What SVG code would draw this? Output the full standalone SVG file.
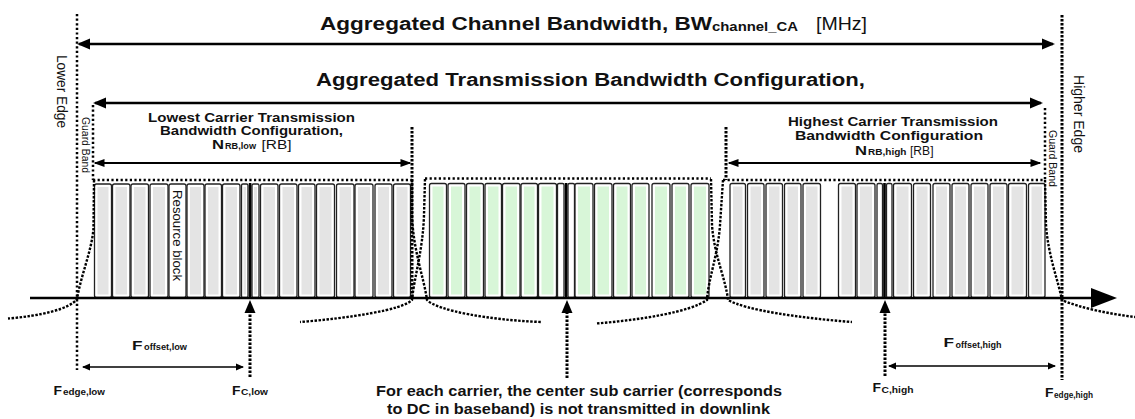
<svg xmlns="http://www.w3.org/2000/svg" width="1135" height="419" viewBox="0 0 1135 419">
<defs>
<style>
text{font-family:"Liberation Sans",Arial,sans-serif;fill:#111}
.t1{font-size:18px;font-weight:bold}
.t1n{font-size:18px}
.sub12{font-size:12px;font-weight:bold}
.lab{font-size:12.5px;font-weight:bold}
.labn{font-size:12.5px}
.F{font-size:13px;font-weight:bold}
.Fs{font-size:9px;font-weight:bold}
.note{font-size:14px;font-weight:bold}
.rot{font-size:14px}
.gb{font-size:11px}
.rbt{font-size:13px}
.rb{fill:#fff;stroke:#222;stroke-width:1.3}
.gi{fill:#e4e4e4}
.ggi{fill:#d8f6d8}
.dc{fill:#000}
.dot{fill:none;stroke:#000;stroke-width:2.5;stroke-dasharray:2.2 2.4}
.dotd{fill:none;stroke:#000;stroke-width:2.4;stroke-dasharray:2.5 1.5}
.dotk{fill:none;stroke:#000;stroke-width:3;stroke-dasharray:2.5 1.5}
.ln{fill:none;stroke:#000}
</style>
<marker id="mA" markerUnits="userSpaceOnUse" markerWidth="14" markerHeight="12" refX="11" refY="6" orient="auto-start-reverse" overflow="visible"><path d="M0,0.5 L13,6 L0,11.5 z" fill="#000"/></marker>
<marker id="mB" markerUnits="userSpaceOnUse" markerWidth="12" markerHeight="11" refX="9.5" refY="5.5" orient="auto-start-reverse" overflow="visible"><path d="M0,1.5 L11,5.5 L0,9.5 z" fill="#000"/></marker>
<marker id="mC" markerUnits="userSpaceOnUse" markerWidth="9" markerHeight="11" refX="7" refY="5.5" orient="auto-start-reverse" overflow="visible"><path d="M0,2 L8,5.5 L0,9 z" fill="#000"/></marker>
<marker id="mU" markerUnits="userSpaceOnUse" markerWidth="14" markerHeight="12" refX="0" refY="6" orient="auto" overflow="visible"><path d="M0,0.5 L13,6 L0,11.5 z" fill="#000"/></marker>
</defs>
<rect width="1135" height="419" fill="#fff"/>

<g id="carrier-low">
<rect class="rb" x="94.5" y="184" width="17" height="113.5" rx="2"/><rect class="gi" x="97.5" y="187" width="11" height="107.5"/>
<rect class="rb" x="112.5" y="184" width="17.5" height="113.5" rx="2"/><rect class="gi" x="115.5" y="187" width="11.5" height="107.5"/>
<rect class="rb" x="131" y="184" width="17.5" height="113.5" rx="2"/><rect class="gi" x="134" y="187" width="11.5" height="107.5"/>
<rect class="rb" x="150" y="184" width="18" height="113.5" rx="2"/><rect class="gi" x="153" y="187" width="12" height="107.5"/>
<rect class="rb" x="169" y="184" width="17" height="113.5" rx="2"/>
<rect class="rb" x="187" y="184" width="17" height="113.5" rx="2"/><rect class="gi" x="190" y="187" width="11" height="107.5"/>
<rect class="rb" x="205" y="184" width="16.5" height="113.5" rx="2"/><rect class="gi" x="208" y="187" width="10.5" height="107.5"/>
<rect class="rb" x="222.5" y="184" width="17.5" height="113.5" rx="2"/><rect class="gi" x="225.5" y="187" width="11.5" height="107.5"/>
<rect class="rb" x="241.5" y="184" width="6.5" height="113.5" rx="1.5"/><rect class="gi" x="243.5" y="187" width="2.5" height="107.5"/>
<rect class="rb" x="252" y="184" width="7" height="113.5" rx="1.5"/><rect class="gi" x="254" y="187" width="3" height="107.5"/>
<rect class="rb" x="260.5" y="184" width="17.5" height="113.5" rx="2"/><rect class="gi" x="263.5" y="187" width="11.5" height="107.5"/>
<rect class="rb" x="279.5" y="184" width="17.5" height="113.5" rx="2"/><rect class="gi" x="282.5" y="187" width="11.5" height="107.5"/>
<rect class="rb" x="298.5" y="184" width="16.5" height="113.5" rx="2"/><rect class="gi" x="301.5" y="187" width="10.5" height="107.5"/>
<rect class="rb" x="316.5" y="184" width="18" height="113.5" rx="2"/><rect class="gi" x="319.5" y="187" width="12" height="107.5"/>
<rect class="rb" x="336.5" y="184" width="17.5" height="113.5" rx="2"/><rect class="gi" x="339.5" y="187" width="11.5" height="107.5"/>
<rect class="rb" x="355" y="184" width="18" height="113.5" rx="2"/><rect class="gi" x="358" y="187" width="12" height="107.5"/>
<rect class="rb" x="375" y="184" width="17" height="113.5" rx="2"/><rect class="gi" x="378" y="187" width="11" height="107.5"/>
<rect class="rb" x="393.5" y="184" width="17" height="113.5" rx="2"/><rect class="gi" x="396.5" y="187" width="11" height="107.5"/>
<rect class="dc" x="248.8" y="183" width="2.6" height="115"/>
<text class="rbt" transform="translate(173,190) rotate(90)" textLength="91" lengthAdjust="spacingAndGlyphs">Resource block</text>
</g>

<g id="carrier-mid">
<rect class="rb" x="429.5" y="183.5" width="17" height="114" rx="2"/><rect class="ggi" x="432.5" y="186.5" width="11" height="108"/>
<rect class="rb" x="448" y="183.5" width="17" height="114" rx="2"/><rect class="ggi" x="451" y="186.5" width="11" height="108"/>
<rect class="rb" x="466.5" y="183.5" width="17" height="114" rx="2"/><rect class="ggi" x="469.5" y="186.5" width="11" height="108"/>
<rect class="rb" x="485" y="183.5" width="16.5" height="114" rx="2"/><rect class="ggi" x="488" y="186.5" width="10.5" height="108"/>
<rect class="rb" x="502.5" y="183.5" width="17.5" height="114" rx="2"/><rect class="ggi" x="505.5" y="186.5" width="11.5" height="108"/>
<rect class="rb" x="521" y="183.5" width="16.5" height="114" rx="2"/><rect class="ggi" x="524" y="186.5" width="10.5" height="108"/>
<rect class="rb" x="538.5" y="183.5" width="18" height="114" rx="2"/><rect class="ggi" x="541.5" y="186.5" width="12" height="108"/>
<rect class="rb" x="557.5" y="183.5" width="6.5" height="114" rx="1.5"/>
<rect class="rb" x="568" y="183.5" width="6.5" height="114" rx="1.5"/>
<rect class="rb" x="575" y="183.5" width="18" height="114" rx="2"/><rect class="ggi" x="578" y="186.5" width="12" height="108"/>
<rect class="rb" x="594.5" y="183.5" width="17.5" height="114" rx="2"/><rect class="ggi" x="597.5" y="186.5" width="11.5" height="108"/>
<rect class="rb" x="613.5" y="183.5" width="17" height="114" rx="2"/><rect class="ggi" x="616.5" y="186.5" width="11" height="108"/>
<rect class="rb" x="632" y="183.5" width="17" height="114" rx="2"/><rect class="ggi" x="635" y="186.5" width="11" height="108"/>
<rect class="rb" x="652" y="183.5" width="18" height="114" rx="2"/><rect class="ggi" x="655" y="186.5" width="12" height="108"/>
<rect class="rb" x="672" y="183.5" width="17" height="114" rx="2"/><rect class="ggi" x="675" y="186.5" width="11" height="108"/>
<rect class="rb" x="691" y="183.5" width="18" height="114" rx="2"/><rect class="ggi" x="694" y="186.5" width="12" height="108"/>
<rect class="dc" x="564.8" y="183" width="2.6" height="115"/>
</g>

<g id="carrier-high">
<rect class="rb" x="730" y="183.5" width="15.5" height="114" rx="2"/><rect class="gi" x="733" y="186.5" width="9.5" height="108"/>
<rect class="rb" x="747.5" y="183.5" width="16.5" height="114" rx="2"/><rect class="gi" x="750.5" y="186.5" width="10.5" height="108"/>
<rect class="rb" x="766" y="183.5" width="16.5" height="114" rx="2"/><rect class="gi" x="769" y="186.5" width="10.5" height="108"/>
<rect class="rb" x="784.5" y="183.5" width="16.5" height="114" rx="2"/><rect class="gi" x="787.5" y="186.5" width="10.5" height="108"/>
<rect class="rb" x="803" y="183.5" width="17.5" height="114" rx="2"/><rect class="gi" x="806" y="186.5" width="11.5" height="108"/>
<rect class="rb" x="838.5" y="183.5" width="17" height="114" rx="2"/><rect class="gi" x="841.5" y="186.5" width="11" height="108"/>
<rect class="rb" x="857" y="183.5" width="18" height="114" rx="2"/><rect class="gi" x="860" y="186.5" width="12" height="108"/>
<rect class="rb" x="877" y="183.5" width="5.5" height="114" rx="1.5"/>
<rect class="rb" x="886.5" y="183.5" width="5.5" height="114" rx="1.5"/>
<rect class="rb" x="893.5" y="183.5" width="18" height="114" rx="2"/><rect class="gi" x="896.5" y="186.5" width="12" height="108"/>
<rect class="rb" x="913.5" y="183.5" width="17" height="114" rx="2"/><rect class="gi" x="916.5" y="186.5" width="11" height="108"/>
<rect class="rb" x="933" y="183.5" width="17" height="114" rx="2"/><rect class="gi" x="936" y="186.5" width="11" height="108"/>
<rect class="rb" x="952" y="183.5" width="17" height="114" rx="2"/><rect class="gi" x="955" y="186.5" width="11" height="108"/>
<rect class="rb" x="971" y="183.5" width="17" height="114" rx="2"/><rect class="gi" x="974" y="186.5" width="11" height="108"/>
<rect class="rb" x="990" y="183.5" width="17" height="114" rx="2"/><rect class="gi" x="993" y="186.5" width="11" height="108"/>
<rect class="rb" x="1008.5" y="183.5" width="18" height="114" rx="2"/><rect class="gi" x="1011.5" y="186.5" width="12" height="108"/>
<rect class="rb" x="1028.5" y="183.5" width="16.5" height="114" rx="2"/><rect class="gi" x="1031.5" y="186.5" width="10.5" height="108"/>
<rect class="dc" x="883.2" y="183" width="2.6" height="115"/>
</g>

<g id="spectrum-masks">
<path class="dot" d="M93,180 H412"/>
<path class="dot" d="M425,178.5 H711"/>
<path class="dot" d="M723,180 H1045"/>
<path class="dotd" d="M94,180 L93.5,228 C92,250 81,275 77,299 C70,309 40,316 8,318.5"/>
<path class="dotd" d="M412,180 L412,215 C413,250 424,278 427,300 C438,311 490,320 541,322"/>
<path class="dotd" d="M425,179 L424,215 C423,250 414,278 412,300 C402,310 350,318 300,322"/>
<path class="dotd" d="M711,179 L712,225 C714,255 726,280 728,300 C745,310 800,318 852,322"/>
<path class="dotd" d="M723,180 L720,225 C718,255 708,280 707,300 C690,312 640,320 596,323.5"/>
<path class="dotd" d="M1045,180 L1046,225 C1048,255 1058,280 1062,300 C1080,308 1110,314 1135,317"/>
</g>

<g id="edges">
<path class="dot" d="M77,14 V370"/>
<path class="dotk" d="M1062,15 V380"/>
<path class="dot" d="M93,105 V180"/>
<path class="dot" d="M1045,108 V180"/>
<path class="dotk" d="M412,127 V298"/>
<path class="dotk" d="M726,127 V180"/>
</g>

<g id="connectors">
<path class="ln" stroke-width="2.6" d="M79,44 H1053" marker-start="url(#mA)" marker-end="url(#mA)"/>
<path class="ln" stroke-width="2.6" d="M95,103 H1041" marker-start="url(#mA)" marker-end="url(#mA)"/>
<path class="ln" stroke-width="2" d="M95,163 H410" marker-start="url(#mB)" marker-end="url(#mB)"/>
<path class="ln" stroke-width="2" d="M729,163 H1040" marker-start="url(#mB)" marker-end="url(#mB)"/>
<path class="ln" stroke-width="2.6" d="M30,298 H1095"/>
<polygon points="1091,288 1117,298 1091,308" fill="#000"/>
<path class="dotk" d="M250,377 V313" marker-end="url(#mU)"/>
<path class="dotk" d="M567,378 V313" marker-end="url(#mU)"/>
<path class="dotk" d="M885,376 V313" marker-end="url(#mU)"/>
<path class="ln" stroke-width="1.6" d="M83,367 H243" marker-start="url(#mC)" marker-end="url(#mC)"/>
<path class="ln" stroke-width="1.6" d="M889,366 H1055" marker-start="url(#mC)" marker-end="url(#mC)"/>
</g>

<g id="title-channel">
<text class="t1" x="320" y="30" textLength="392" lengthAdjust="spacingAndGlyphs">Aggregated Channel Bandwidth, BW</text>
<text class="sub12" x="712" y="31" textLength="86" lengthAdjust="spacingAndGlyphs">channel_CA</text>
<text class="t1n" x="816" y="30" textLength="51" lengthAdjust="spacingAndGlyphs">[MHz]</text>
</g>
<g id="title-transmission">
<text class="t1" x="316" y="85.5" textLength="549" lengthAdjust="spacingAndGlyphs">Aggregated Transmission Bandwidth Configuration,</text>
</g>

<g id="label-low">
<text class="lab" x="148" y="121.5" textLength="207" lengthAdjust="spacingAndGlyphs">Lowest Carrier Transmission</text>
<text class="lab" x="160" y="134.5" textLength="183" lengthAdjust="spacingAndGlyphs">Bandwidth Configuration,</text>
<text class="lab" x="212" y="148.5" textLength="12" lengthAdjust="spacingAndGlyphs">N</text>
<text class="Fs" x="225" y="149" textLength="31" lengthAdjust="spacingAndGlyphs">RB,low</text>
<text class="labn" x="261.5" y="148.5" textLength="30" lengthAdjust="spacingAndGlyphs">[RB]</text>
</g>
<g id="label-high">
<text class="lab" x="788" y="125.5" textLength="210" lengthAdjust="spacingAndGlyphs">Highest Carrier Transmission</text>
<text class="lab" x="795" y="139.5" textLength="188" lengthAdjust="spacingAndGlyphs">Bandwidth Configuration</text>
<text class="lab" x="855" y="154.5" textLength="12" lengthAdjust="spacingAndGlyphs">N</text>
<text class="Fs" x="868" y="155" textLength="38.5" lengthAdjust="spacingAndGlyphs">RB,high</text>
<text class="labn" x="910" y="154.5" textLength="23.5" lengthAdjust="spacingAndGlyphs">[RB]</text>
</g>

<g id="edge-labels">
<text class="rot" transform="translate(56.5,55) rotate(90)" textLength="73" lengthAdjust="spacingAndGlyphs">Lower Edge</text>
<text class="rot" transform="translate(1073.5,75) rotate(90)" textLength="78" lengthAdjust="spacingAndGlyphs">Higher Edge</text>
<text class="gb" transform="translate(82,117) rotate(90)" textLength="56" lengthAdjust="spacingAndGlyphs">Guard Band</text>
<text class="gb" transform="translate(1048.5,130) rotate(90)" textLength="57" lengthAdjust="spacingAndGlyphs">Guard Band</text>
</g>

<g id="freq-labels">
<text class="F" x="132" y="349.5" textLength="10.5" lengthAdjust="spacingAndGlyphs">F</text>
<text class="Fs" x="144" y="350" textLength="43" lengthAdjust="spacingAndGlyphs">offset,low</text>
<text class="F" x="943.5" y="347" textLength="10.5" lengthAdjust="spacingAndGlyphs">F</text>
<text class="Fs" x="955.5" y="347.5" textLength="46" lengthAdjust="spacingAndGlyphs">offset,high</text>
<text class="F" x="53.5" y="394.5" textLength="8.5" lengthAdjust="spacingAndGlyphs">F</text>
<text class="Fs" x="63" y="395" textLength="42" lengthAdjust="spacingAndGlyphs">edge,low</text>
<text class="F" x="232" y="394.5" textLength="8.5" lengthAdjust="spacingAndGlyphs">F</text>
<text class="Fs" x="241" y="395" textLength="27" lengthAdjust="spacingAndGlyphs">C,low</text>
<text class="F" x="872.5" y="392" textLength="8.5" lengthAdjust="spacingAndGlyphs">F</text>
<text class="Fs" x="881.5" y="392.5" textLength="32" lengthAdjust="spacingAndGlyphs">C,high</text>
<text class="F" x="1045" y="397" textLength="8.5" lengthAdjust="spacingAndGlyphs">F</text>
<text class="Fs" x="1054" y="397.5" textLength="39" lengthAdjust="spacingAndGlyphs">edge,high</text>
</g>

<g id="note">
<text class="note" x="376" y="396" textLength="406" lengthAdjust="spacingAndGlyphs">For each carrier, the center sub carrier (corresponds</text>
<text class="note" x="387" y="414" textLength="383" lengthAdjust="spacingAndGlyphs">to DC in baseband) is not transmitted in downlink</text>
</g>
</svg>
